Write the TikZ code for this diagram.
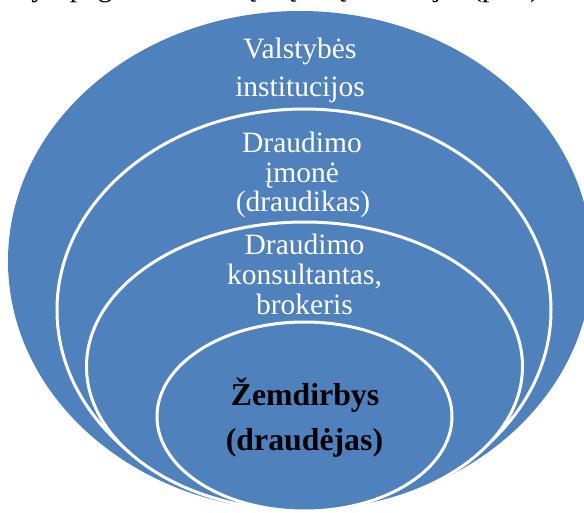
\documentclass[tikz,border=0pt]{standalone}
\usepackage{fontspec}
\setmainfont{Liberation Serif}
\definecolor{accblue}{HTML}{4F81BD}
\begin{document}
\begin{tikzpicture}[x=1pt,y=-1pt,
  ring/.style={fill=accblue,draw=white,line width=3pt},
  wtext/.style={text=white,font=\fontsize{29.5}{31}\selectfont,anchor=base,inner sep=0pt},
  btext/.style={text=black,font=\fontsize{31.8}{34}\selectfont\bfseries,anchor=base,inner sep=0pt},
  hdrtext/.style={text=black,font=\fontsize{29.5}{31}\selectfont,anchor=base west,inner sep=0pt}]
\useasboundingbox (0,0) rectangle (584,513);
\begin{scope}
\clip (0,0) rectangle (584,513);
\node[hdrtext] (hdr) at (-36,-3) {išdėstyti pagal svarbumą ir įtaką draudėjui (pav.)};
\fill[accblue] (300,261) ellipse [x radius=292pt, y radius=250pt];
\path[ring] (304,310) ellipse [x radius=247pt, y radius=201pt];
\path[ring] (304.5,366.5) ellipse [x radius=218pt, y radius=144.5pt];
\path[ring] (304.5,416.5) ellipse [x radius=147.5pt, y radius=94.5pt];
\end{scope}
\node[wtext] (v1) at (300,59) {Valstybės};
\node[wtext] (v2) at (300,97) {institucijos};
\node[wtext] (d1) at (302,153) {Draudimo};
\node[wtext] (d2) at (302,183) {įmonė};
\node[wtext] (d3) at (303,212) {(draudikas)};
\node[wtext] (k1) at (304.5,255) {Draudimo};
\node[wtext] (k2) at (304.5,285) {konsultantas,};
\node[wtext] (k3) at (304.5,315) {brokeris};
\node[btext] (z1) at (305,405) {Žemdirbys};
\node[btext] (z2) at (304.5,450) {(draudėjas)};
\end{tikzpicture}
\end{document}
